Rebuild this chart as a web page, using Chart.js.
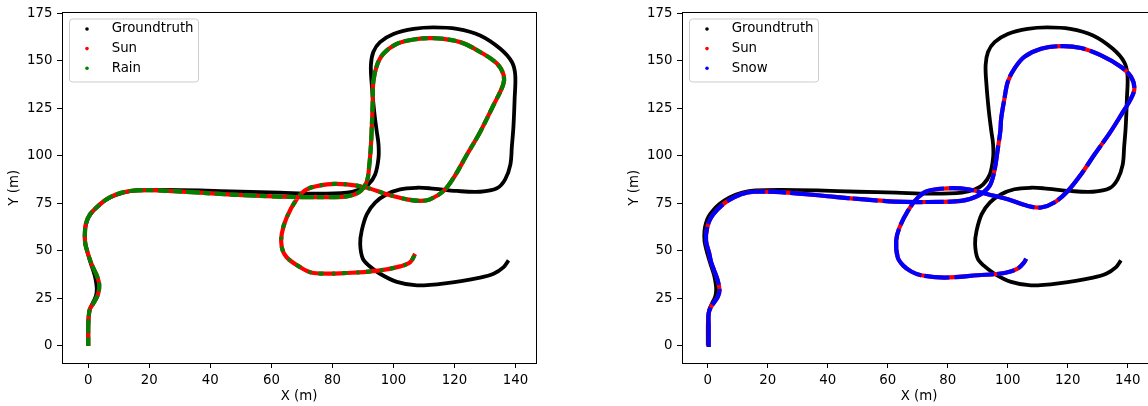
<!DOCTYPE html>
<html>
<head>
<meta charset="utf-8">
<script src="https://cdn.jsdelivr.net/npm/chart.js@4.4.0/dist/chart.umd.min.js"></script>
<style>
  html, body { margin: 0; padding: 0; background: #fff; overflow: hidden; }
  body { width: 1148px; height: 406px; position: relative; }
  canvas { position: absolute; top: 0; }
  #rainChart { left: 0; }
  #snowChart { left: 620px; }
</style>
</head>
<body>
<canvas id="rainChart" width="560" height="406"></canvas>
<canvas id="snowChart" width="560" height="406"></canvas>
<script>
// tick labels
const xTicks = [0, 20, 40, 60, 80, 100, 120, 140];
const yTicks = [0, 25, 50, 75, 100, 125, 150, 175];

// ground truth trajectory (same in both plots)
const gtX = [0, 0, 0, 0.1, 0.5, 1.5, 2.5, 2.8, 2.6, 2.1,
    1.2, 0.3, -0.5, -1.1, -1.1, -0.6, 0.2, 1.6, 3.8, 7.1,
    11.5, 15.9, 25, 36.6, 50, 62.8, 73.8, 84.7, 89.1, 91.8,
    94, 95.1, 95.1, 94.5, 93.7, 92.9, 92.6, 93.4, 95.6, 100,
    106.6, 113.1, 120.8, 128.4, 135, 138.8, 139.9, 139.7, 139.3, 138.8,
    138.3, 136.6, 133.9, 128.4, 120.8, 112, 107.7, 102.2, 97.8, 94,
    91.3, 89.6, 89.1, 89.9, 91.8, 95.6, 101.1, 107.7, 117.5, 128.4,
    132.8, 136.1, 137.7];
const gtY = [0, 5, 10, 15, 19, 22.5, 26, 29.5, 33, 37,
    41.5, 46, 50.5, 55, 60.5, 64.5, 67.8, 70.9, 74.4, 77.9,
    80.5, 81.7, 82, 81.7, 81, 80.5, 80, 80.5, 82.3, 84.9,
    90.1, 98.8, 106, 113, 123.2, 137.2, 147.6, 154.6, 159.8, 164.1,
    166.8, 167.6, 166.8, 163.3, 156.3, 149.3, 142.4, 130, 115, 105,
    95.3, 87.5, 82.8, 81, 81.4, 82.8, 83.1, 82.3, 79.7, 75.3,
    69.2, 60.5, 53.5, 46, 42.3, 37.8, 33.5, 31.7, 32.9, 35.8,
    37.8, 41.3, 44.8];

// left plot: rain estimate
const rainX = [0, 0, 0, 0.2, 0.6, 1.8, 3.2, 3.6, 2.9, 1.6,
    0.6, -0.2, -0.9, -1.1, -0.8, 0.6, 2.75, 6, 9.3, 13.7,
    20, 28, 36.6, 47, 58.5, 66, 73.8, 84.7, 89.1, 91.3,
    92.1, 92.6, 92.9, 93.2, 93.4, 94.6, 96.7, 101.1, 106.6, 113.1,
    121.9, 128.4, 133.9, 136.1, 135.9, 132.8, 128.4, 124.1, 119.7, 116.4,
    112, 108.8, 104.4, 97.8, 91.3, 84.7, 78.2, 71.6, 68.3, 65,
    63.4, 63.4, 65, 69.4, 73.8, 84.7, 95.6, 102.2, 105.5, 107.1];
const rainY = [-0.3, 5, 10, 16, 19.5, 22.5, 27, 32, 36.5, 41,
    45, 49, 53, 57, 64, 69.2, 72.7, 77, 79.7, 81.4,
    81.8, 81.3, 80.5, 79.5, 78.7, 78.3, 78.1, 78.6, 81.2, 86.6,
    95.3, 105, 115, 128.4, 138.9, 147.6, 153.7, 158.9, 161.2, 161.9,
    159.8, 154.6, 148.5, 142.4, 137.2, 126.7, 112.5, 100.6, 88.3, 81.4,
    77, 76.2, 77, 79.7, 83.1, 84.9, 84.9, 82.3, 77, 67.4,
    58.8, 51.8, 46.5, 41.3, 38.2, 38.2, 39.6, 41.7, 43.9, 48.3];

// left plot: sun estimate (lies on the rain track)
const sunLeftX = [0, 0, 0, 0.2, 0.6, 1.8, 3.2, 3.6, 2.9, 1.6,
    0.6, -0.2, -0.9, -1.1, -0.8, 0.6, 2.75, 6, 9.3, 13.7,
    20, 28, 36.6, 47, 58.5, 66, 73.8, 84.7, 89.1, 91.3,
    92.1, 92.6, 92.9, 93.2, 93.4, 94.6, 96.7, 101.1, 106.6, 113.1,
    121.9, 128.4, 133.9, 136.1, 135.9, 132.8, 128.4, 124.1, 119.7, 116.4,
    112, 108.8, 104.4, 97.8, 91.3, 84.7, 78.2, 71.6, 68.3, 65,
    63.4, 63.4, 65, 69.4, 73.8, 84.7, 95.6, 102.2, 105.5, 107.1];
const sunLeftY = [-0.3, 5, 10, 16, 19.5, 22.5, 27, 32, 36.5, 41,
    45, 49, 53, 57, 64, 69.2, 72.7, 77, 79.7, 81.4,
    81.8, 81.3, 80.5, 79.5, 78.7, 78.3, 78.1, 78.6, 81.2, 86.6,
    95.3, 105, 115, 128.4, 138.9, 147.6, 153.7, 158.9, 161.2, 161.9,
    159.8, 154.6, 148.5, 142.4, 137.2, 126.7, 112.5, 100.6, 88.3, 81.4,
    77, 76.2, 77, 79.7, 83.1, 84.9, 84.9, 82.3, 77, 67.4,
    58.8, 51.8, 46.5, 41.3, 38.2, 38.2, 39.6, 41.7, 43.9, 48.3];

// right plot: snow estimate
const snowX = [0.3, 0.3, 0.3, 0.3, 1.1, 3.3, 3.9, 3.3, 2.1, 1.1,
    0.5, -0.6, -0.2, 1.1, 3.3, 6.7, 11.1, 15.5, 26.7, 42.2,
    51, 62.2, 73.3, 84.4, 90, 93.9, 95.5, 96.7, 97.5, 97.8,
    98.9, 100, 102.2, 105.5, 111.1, 117.8, 124.4, 131.1, 137.8, 141.1,
    142.2, 141.1, 137.8, 134, 128.9, 124.4, 120, 115.5, 111.1, 106.7,
    100, 93.3, 86.7, 80, 73.3, 70, 66.7, 63.9, 62.8, 63.3,
    65.2, 67.8, 71.1, 78.9, 90, 98.9, 103.3, 105.5, 106.1];
const snowY = [-0.8, 5, 10, 17, 20.4, 25.6, 29.1, 34.3, 39.6, 43.9,
    48.3, 55.3, 62.2, 67.4, 71.8, 76.2, 79.7, 81, 80.5, 78.3,
    77.1, 75.8, 75.6, 76.2, 78.8, 84, 91.8, 104, 112.8, 119.7,
    130.2, 138.9, 145.8, 152, 156.3, 157.7, 156.7, 152.8, 146.7, 141.5,
    135.4, 130.2, 121.5, 112, 100.6, 90.1, 81.4, 75.3, 72.7, 73.5,
    77, 79.7, 82.3, 82.8, 81.4, 77.9, 70.9, 62.2, 55.3, 46.5,
    42, 39, 37, 35.8, 37, 38.2, 40.5, 43.9, 45.7];

// right plot: sun estimate (lies on the snow track)
const sunRightX = [0.3, 0.3, 0.3, 0.3, 1.1, 3.3, 3.9, 3.3, 2.1, 1.1,
    0.5, -0.6, -0.2, 1.1, 3.3, 6.7, 11.1, 15.5, 26.7, 42.2,
    51, 62.2, 73.3, 84.4, 90, 93.9, 95.5, 96.7, 97.5, 97.8,
    98.9, 100, 102.2, 105.5, 111.1, 117.8, 124.4, 131.1, 137.8, 141.1,
    142.2, 141.1, 137.8, 134, 128.9, 124.4, 120, 115.5, 111.1, 106.7,
    100, 93.3, 86.7, 80, 73.3, 70, 66.7, 63.9, 62.8, 63.3,
    65.2, 67.8, 71.1, 78.9, 90, 98.9, 103.3, 105.5, 106.1];
const sunRightY = [-0.8, 5, 10, 17, 20.4, 25.6, 29.1, 34.3, 39.6, 43.9,
    48.3, 55.3, 62.2, 67.4, 71.8, 76.2, 79.7, 81, 80.5, 78.3,
    77.1, 75.8, 75.6, 76.2, 78.8, 84, 91.8, 104, 112.8, 119.7,
    130.2, 138.9, 145.8, 152, 156.3, 157.7, 156.7, 152.8, 146.7, 141.5,
    135.4, 130.2, 121.5, 112, 100.6, 90.1, 81.4, 75.3, 72.7, 73.5,
    77, 79.7, 82.3, 82.8, 81.4, 77.9, 70.9, 62.2, 55.3, 46.5,
    42, 39, 37, 35.8, 37, 38.2, 40.5, 43.9, 45.7];

const FONT = { family: "'DejaVu Sans', sans-serif", size: 13.33 };

function toPoints(xs, ys) {
    return xs.map(function (x, i) { return { x: x, y: ys[i] }; });
}

// plot frame (matplotlib draws all four spines)
const frame = {
    id: "frame",
    afterDatasetsDraw(chart) {
        const { ctx, chartArea: a } = chart;
        ctx.save();
        ctx.strokeStyle = "#000";
        ctx.lineWidth = 1;
        ctx.strokeRect(Math.round(a.left) + 0.5, Math.round(a.top) + 0.5,
            Math.round(a.right - a.left), Math.round(a.bottom - a.top));
        ctx.restore();
    },
};

// legend box in the upper left corner of the axes
const cornerLegend = {
    id: "cornerLegend",
    afterDraw(chart) {
        const { ctx, chartArea: a } = chart;
        const x0 = a.left + 7, y0 = a.top + 6;
        ctx.save();
        ctx.beginPath();
        ctx.roundRect(x0 + 0.5, y0 + 0.5, 129, 63, 3);
        ctx.fillStyle = "rgba(255,255,255,0.8)";
        ctx.fill();
        ctx.strokeStyle = "#cccccc";
        ctx.lineWidth = 1;
        ctx.stroke();
        ctx.font = "13.33px 'DejaVu Sans'";
        ctx.textBaseline = "middle";
        chart.data.datasets.forEach(function (ds, i) {
            const cy = y0 + 10.5 + i * 19.6;
            ctx.beginPath();
            ctx.arc(x0 + 18, cy, 1.8, 0, 2 * Math.PI);
            ctx.fillStyle = ds.borderColor;
            ctx.fill();
            ctx.fillStyle = "#000";
            ctx.fillText(ds.label, x0 + 42.7, cy);
        });
        ctx.restore();
    },
};

function axis(min, max, ticks, title, isX) {
    return {
        type: "linear",
        min: min,
        max: max,
        afterBuildTicks: function (s) {
            s.ticks = ticks.map(function (v) { return { value: v }; });
        },
        afterFit: function (s) {
            if (isX) s.height = 43;
            else s.width = 62;
        },
        ticks: {
            color: "#000",
            font: FONT,
            padding: 4.5,
            autoSkip: false,
            maxRotation: 0,
            callback: function (v) { return String(v); },
        },
        grid: {
            drawOnChartArea: false,
            drawTicks: true,
            tickLength: 5,
            color: "#000",
            lineWidth: 1,
        },
        border: { display: true, color: "#000", width: 1 },
        title: {
            display: true,
            text: title,
            color: "#000",
            font: FONT,
            padding: isX ? { top: 0, bottom: 1 } : { top: 7, bottom: 0 },
        },
    };
}

function makeChart(id, xMax, sunX, sunY, estLabel, estColor, estX, estY, dash, lateFrom, lateDash) {
    const ctx = document.getElementById(id).getContext("2d");
    return new Chart(ctx, {
        type: "scatter",
        data: {
            datasets: [
                {
                    label: "Groundtruth",
                    data: toPoints(gtX, gtY),
                    borderColor: "#000000",
                    backgroundColor: "#000000",
                    borderWidth: 3.8,
                    order: 2,
                },
                {
                    label: "Sun",
                    data: toPoints(sunX, sunY),
                    borderColor: "#ff0000",
                    backgroundColor: "#ff0000",
                    borderWidth: 4.2,
                    order: 1,
                },
                {
                    label: estLabel,
                    data: toPoints(estX, estY),
                    borderColor: estColor,
                    backgroundColor: estColor,
                    borderWidth: 4.2,
                    borderDash: dash,
                    segment: {
                        borderDash: function (c) {
                            return c.p0DataIndex >= lateFrom ? lateDash : undefined;
                        },
                    },
                    order: 0,
                },
            ],
        },
        options: {
            responsive: false,
            animation: false,
            devicePixelRatio: 1,
            showLine: true,
            layout: { padding: { top: 10, right: 24, bottom: 0, left: 0 } },
            elements: {
                point: { radius: 0, hoverRadius: 0 },
                line: { tension: 0.35, fill: false, borderCapStyle: "butt" },
            },
            plugins: {
                legend: { display: false },
                tooltip: { enabled: false },
            },
            scales: {
                x: axis(-8.6, xMax, xTicks, "X (m)", true),
                y: axis(-9.2, 175.4, yTicks, "Y (m)", false),
            },
        },
        plugins: [frame, cornerLegend],
    });
}

makeChart("rainChart", 146.7, sunLeftX, sunLeftY, "Rain", "#008000",
    rainX, rainY, [9, 4, 14, 3, 7, 5, 11, 4], 52, [5, 9, 3, 7]);
makeChart("snowChart", 149.4, sunRightX, sunRightY, "Snow", "#0000ff",
    snowX, snowY, [40, 3, 18, 4, 60, 3, 25, 5], 999, undefined);
</script>
</body>
</html>
